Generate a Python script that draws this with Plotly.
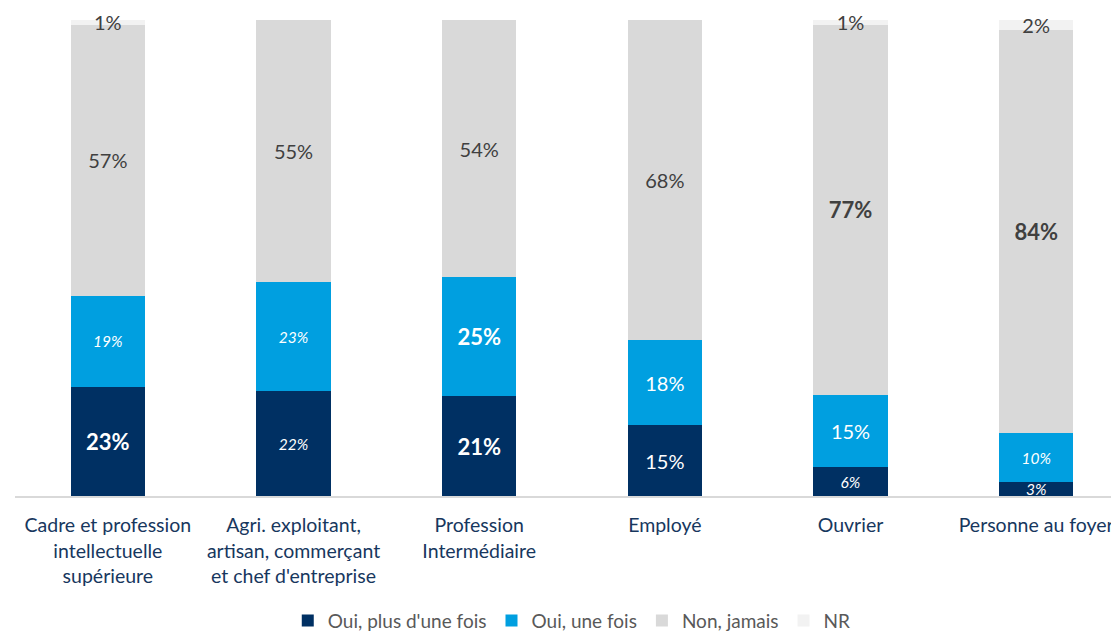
import plotly.graph_objects as go

categories = [
    "Cadre et profession<br>intellectuelle<br>supérieure",
    "Agri. exploitant,<br>artisan, commerçant<br>et chef d'entreprise",
    "Profession<br>Intermédiaire",
    "Employé",
    "Ouvrier",
    "Personne au foyer",
]
series_names = ["Oui, plus d'une fois", "Oui, une fois", "Non, jamais", "NR"]
oui_plus = [23, 22, 21, 15, 6, 3]
oui_une = [19, 23, 25, 18, 15, 10]
non_jamais = [57, 55, 54, 68, 77, 84]
nr = [1, 0, 0, 0, 1, 2]

# label styles: b = bold, i = italic, n = normal
style_oui_plus = ["b", "i", "b", "n", "i", "i"]
style_oui_une = ["i", "i", "b", "n", "n", "i"]
style_non = ["n", "n", "n", "n", "b", "b"]
style_nr = ["n", "n", "n", "n", "n", "n"]

colors = ["#003063", "#009FE0", "#D9D9D9", "#F2F2F2"]
text_colors = ["white", "white", "#404040", "#404040"]
FONT = "Lato"
SIZES = {"n": 20, "i": 15.5, "b": 22}


def fmt(v, s):
    if v == 0:
        return ""
    t = f"{v}%"
    if s == "b":
        return f"<b>{t}</b>"
    if s == "i":
        return f"<i>{t}</i>"
    return t


fig = go.Figure()
for name, vals, styles, col, tcol in zip(
    series_names,
    [oui_plus, oui_une, non_jamais, nr],
    [style_oui_plus, style_oui_une, style_non, style_nr],
    colors,
    text_colors,
):
    fig.add_trace(
        go.Bar(
            name=name,
            x=categories,
            y=vals,
            marker=dict(color=col, line=dict(width=0)),
            text=[fmt(v, s) for v, s in zip(vals, styles)],
            textposition="inside",
            insidetextanchor="middle",
            constraintext="none",
            textangle=0,
            cliponaxis=False,
            textfont=dict(family=FONT, color=tcol, size=[SIZES[s] for s in styles]),
            hoverinfo="skip",
        )
    )

fig.update_layout(
    width=1111,
    height=631,
    barmode="stack",
    barnorm="percent",
    bargap=0.6,
    paper_bgcolor="white",
    plot_bgcolor="white",
    margin=dict(l=15, r=0, t=20, b=135, autoexpand=False),
    font=dict(family=FONT),
    showlegend=True,
    legend=dict(
        orientation="h",
        x=0.508,
        xanchor="center",
        y=-0.262,
        yanchor="middle",
        font=dict(family=FONT, size=19, color="#595959"),
        itemwidth=30,
        traceorder="normal",
    ),
    xaxis=dict(
        range=[-0.5, 5.5 - 18 / 185.6],
        showline=True,
        linecolor="#D9D9D9",
        linewidth=2,
        showgrid=False,
        ticks="",
        automargin=False,
        ticklabelstandoff=11,
        tickfont=dict(family=FONT, size=19.5, color="#17375E"),
        fixedrange=True,
    ),
    yaxis=dict(
        range=[0, 100],
        visible=False,
        showgrid=False,
        fixedrange=True,
    ),
)

fig.write_html(
    "out.html",
    config={"displayModeBar": False, "staticPlot": True},
    post_script="document.body.style.margin='0';document.body.style.overflow='hidden';",
)
